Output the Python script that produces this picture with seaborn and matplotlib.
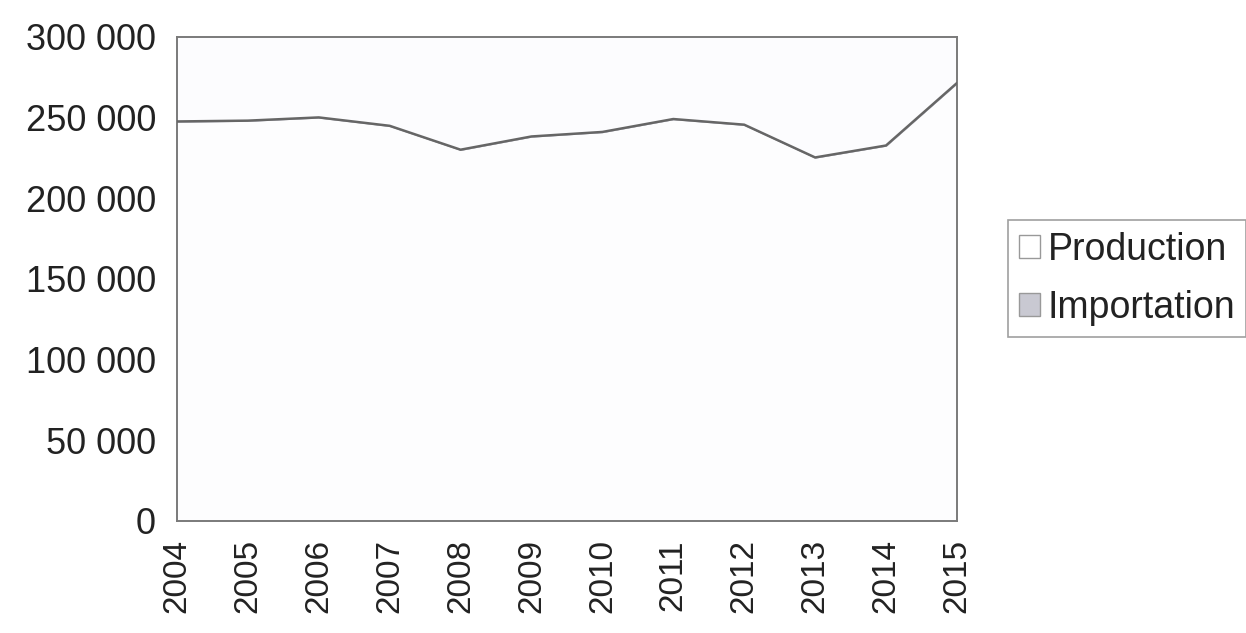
import numpy as np
import pandas as pd
import matplotlib
matplotlib.use("Agg")
import matplotlib.pyplot as plt
import seaborn as sns
from matplotlib.patches import Patch
from matplotlib.ticker import FuncFormatter

years = [2004, 2005, 2006, 2007, 2008, 2009, 2010, 2011, 2012, 2013, 2014, 2015]
production = [247500, 248000, 250000, 244800, 230000, 238200, 241000, 249000, 245500, 225200, 232600, 271300]
importation = [0, 0, 0, 0, 0, 0, 0, 0, 0, 0, 0, 0]
series_names = ["Production", "Importation"]

df = pd.DataFrame({"year": years, "Production": production, "Importation": importation})
df["total"] = df["Production"] + df["Importation"]

sns.set_style("white")
plt.rcParams["font.family"] = ["Liberation Sans", "DejaVu Sans"]

fig = plt.figure(figsize=(12.46, 6.33), dpi=100)
ax = fig.add_axes([0.142, 0.177, 0.626, 0.765])

edge = "#7a7a7a"
ax.fill_between(df["year"], 0, df["Production"], color="#fdfdfe", zorder=1)
ax.fill_between(df["year"], df["Production"], df["total"], color="#c9c9d2", zorder=1)
sns.lineplot(data=df, x="year", y="total", ax=ax, color="#666666", linewidth=1.8, zorder=3)

ax.set_xlim(2004, 2015)
ax.set_ylim(0, 300000)
ax.set_xticks(years)
ax.set_xticklabels([str(y) for y in years], rotation=90, fontsize=24, color="#222222")
ax.set_yticks(np.arange(0, 300001, 50000))
ax.yaxis.set_major_formatter(FuncFormatter(lambda v, p: f"{int(v):,}".replace(",", " ")))
ax.tick_params(axis="y", labelsize=26, colors="#222222", length=7, width=1.2, direction="out", pad=8)
ax.tick_params(axis="x", length=9, width=1.2, direction="out", pad=4)
ax.tick_params(axis="both", color=edge)
ax.set_xlabel("")
ax.set_ylabel("")
ax.set_facecolor("#fcfcfe")
for s in ax.spines.values():
    s.set_visible(True)
    s.set_color(edge)
    s.set_linewidth(1.4)

handles = [Patch(facecolor="white", edgecolor="#999999", label=series_names[0]),
           Patch(facecolor="#c9c9d2", edgecolor="#999999", label=series_names[1])]
leg = fig.legend(handles=handles, loc="upper left", bbox_to_anchor=(0.809, 0.652),
                 fontsize=27, frameon=True, fancybox=False, handlelength=0.55,
                 handleheight=0.55, handletextpad=0.2, borderpad=0.3, labelspacing=0.6,
                 borderaxespad=0)
leg.get_frame().set_edgecolor("#888888")
leg.get_frame().set_linewidth(1.2)
for t in leg.get_texts():
    t.set_color("#222222")

fig.savefig("out.png", dpi=100)
